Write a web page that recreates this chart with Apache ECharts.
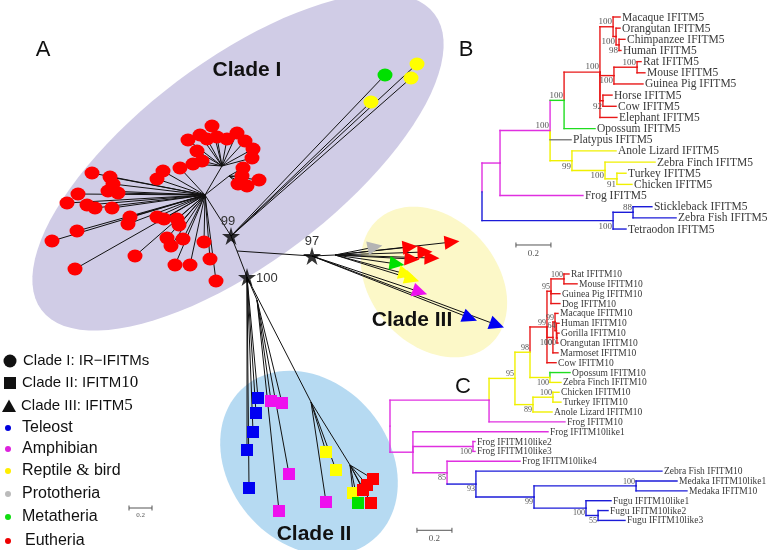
<!DOCTYPE html>
<html><head><meta charset="utf-8">
<script src="https://cdn.jsdelivr.net/npm/echarts/dist/echarts.min.js"></script>
<style>html,body{margin:0;padding:0;background:#fff}#c{width:768px;height:550px}</style>
</head><body><div id="c"></div>
<script>
// ---------------- Panel A : unrooted tree (layout coordinates) ----------------
const aNodeNames = ['hubI','hubIupper','hubIright','node99','node100','node97','root','hubIII','hubIIa','hubIIb','hubIIc'];
const aNodeX = [205,222,229,231,247,312,237,335,257,311,350];
const aNodeY = [195,166,176,236,277,256,251,255,300,402,465];
const aNodeLinks = [[1,0],[2,0],[0,3],[3,6],[6,4],[6,5],[5,7],[4,8],[4,9],[9,10]];
const aStarNodes = [3,4,5];
const aStarSupport = ['99','100','97'];
// leaves: [x, y, parentNode]
const cladeIEutheria = [
 [212,126,1],[188,140,1],[200,135,1],[207,139,1],[217,137,1],[227,139,1],[237,133,1],[245,141,1],[253,149,1],[252,158,1],[197,151,1],[202,161,1],[193,164,1],
 [180,168,0],[163,171,0],[157,179,0],
 [243,168,2],[242,176,2],[238,184,2],[247,186,2],[259,180,2],
 [92,173,0],[110,177,0],[113,184,0],[108,191,0],[118,193,0],[78,194,0],[67,203,0],[87,205,0],[95,208,0],[112,208,0],
 [130,217,0],[128,224,0],[157,217,0],[164,219,0],[177,219,0],[179,225,0],[77,231,0],[52,241,0],[167,238,0],[171,246,0],
 [183,239,0],[204,242,0],[135,256,0],[175,265,0],[190,265,0],[210,259,0],[75,269,0],[216,281,0]
];
const cladeIMetatheria = [[385,75,3]];
const cladeIReptile = [[417,64,3],[411,78,3],[371,102,3]];
const cladeIIIPrototheria = [[375,247,7]];
const cladeIIIEutheria = [[410,247,7],[452,242,7],[425,252,7],[432,258,7],[412,259,7]];
const cladeIIIMetatheria = [[397,264,7]];
const cladeIIIReptile = [[406,274,7],[412,279,7]];
const cladeIIIAmphibian = [[420,292,5]];
const cladeIIITeleost = [[470,318,5],[497,325,5]];
const cladeIITeleost = [[258,398,4],[256,413,4],[253,432,4],[247,450,4],[249,488,4]];
const cladeIIAmphibian = [[271,401,8],[282,403,8],[289,474,8],[279,511,8],[326,502,9]];
const cladeIIReptile = [[326,452,9],[336,470,9],[353,493,10]];
const cladeIIMetatheria = [[358,503,10]];
const cladeIIEutheria = [[371,503,10],[367,485,10],[373,479,10],[363,490,10]];

// ---------------- Panel B : IFITM5 tree (branch lengths) ----------------
const bLeaves = ['Macaque IFITM5','Orangutan IFITM5','Chimpanzee IFITM5','Human IFITM5','Rat IFITM5','Mouse IFITM5','Guinea Pig IFITM5','Horse IFITM5','Cow IFITM5','Elephant IFITM5','Opossum IFITM5','Platypus IFITM5','Anole Lizard IFITM5','Zebra Finch IFITM5','Turkey IFITM5','Chicken IFITM5','Frog IFITM5','Stickleback IFITM5','Zebra Fish IFITM5','Tetraodon IFITM5'];
const bLeafDepth = [0.789,0.789,0.817,0.794,0.909,0.931,0.92,0.743,0.766,0.771,0.646,0.509,0.766,0.989,0.823,0.857,0.577,0.971,1.109,0.823];
const bLeafGroup = ['eu','eu','eu','eu','eu','eu','eu','eu','eu','eu','me','pr','re','re','re','re','am','te','te','te'];
const bNodeDepth = [0,0.103,0.389,0.469,0.674,0.749,0.766,0.783,0.754,0.886,0.691,0.514,0.703,0.771,0.749,0.863];
const bNodeGroup = ['am','am','am','me','eu','eu','eu','eu','eu','eu','eu','re','re','re','te','te'];
const bNodeChildren = [['n1','n14'],['n2',16],['n3',11,'n11'],['n4',10],['n5','n8','n10',9],[0,'n6'],[1,'n7'],[2,3],['n9',6],[4,5],[7,8],[12,'n12'],[13,'n13'],[14,15],['n15',19],[17,18]];
const bVertOverride = {n3:'am', '11':'re'};
const bSupport = [['n2',100,'a'],['n3',100,'a'],['n4',100,'a'],['n5',100,'a'],['n6',100,'b'],['n7',98,'b'],['n8',100,'b'],['n9',100,'a'],['n10',92,'b'],['n11',99,'b'],['n12',100,'b'],['n13',91,'b'],['n15',88,'a'],['n14',100,'b']];

// ---------------- Panel C : IFITM10 tree (branch lengths) ----------------
const cLeaves = ['Rat IFITM10','Mouse IFITM10','Guinea Pig IFITM10','Dog IFITM10','Macaque IFITM10','Human IFITM10','Gorilla IFITM10','Orangutan IFITM10','Marmoset IFITM10','Cow IFITM10','Opossum IFITM10','Zebra Finch IFITM10','Chicken IFITM10','Turkey IFITM10','Anole Lizard IFITM10','Frog IFITM10','Frog IFITM10like1','Frog IFITM10like2','Frog IFITM10like3','Frog IFITM10like4','Zebra Fish IFITM10','Medaka IFITM10like1','Medaka IFITM10','Fugu IFITM10like1','Fugu IFITM10like2','Fugu IFITM10like3'];
const cLeafDepth = [1.023,1.069,0.971,0.971,0.96,0.966,0.966,0.96,0.96,0.949,1.029,0.977,0.966,0.977,0.926,1.0,0.903,0.486,0.486,0.743,1.554,1.64,1.697,1.263,1.246,1.343];
const cLeafGroup = ['eu','eu','eu','eu','eu','eu','eu','eu','eu','eu','me','re','re','re','re','am','am','am','am','am','te','te','te','te','te','te'];
const cNodeDepth = [0,0.566,0.714,0.8,0.897,0.92,0.994,0.931,0.943,0.914,0.817,0.931,0.131,0.474,0.326,0.491,0.823,1.406,0.951,1.12,0.954,1.189];
const cNodeGroup = ['am','am','re','re','eu','eu','eu','eu','eu','re','re','re','am','am','am','te','te','te','eu','te','eu','te'];
const cNodeChildren = [['n1','n12'],['n2',15],['n3','n10'],['n4','n9'],['n5','n7',9],['n6',2,3],[0,1],['n8',8],[4,'n18'],[10,11],['n11',14],[12,13],[16,'n13','n14'],[17,18],[19,'n15'],[20,'n16'],['n17','n19'],[21,22],[5,'n20'],[23,'n21'],[6,7],[24,25]];
const cVertOverride = {n15:'am'};
const cSupport = [['n6',100,'a'],['n5',95,'a'],['n4',99,'a'],['n7',100,'b'],['n8',99,'a'],['n18',64,'a'],['n20',100,'b'],['n3',98,'a'],['n2',95,'a'],['n9',100,'b'],['n11',100,'a'],['n10',89,'b'],['n13',100,'b'],['n14',85,'b'],['n15',93,'b'],['n16',99,'b'],['n17',100,'a'],['n19',100,'b'],['n21',55,'b']];

// ---------------- styling ----------------
const MARK = {te:'#0000f2', am:'#ee10ee', re:'#ffff00', pr:'#b4b4b4', me:'#00e000', eu:'#ff0000'};
const LINE = {te:'#1b1bd8', am:'#e030e0', re:'#f0f000', pr:'#7a7a7a', me:'#20dd20', eu:'#e81818'};
const SERIF = "'Liberation Serif', 'DejaVu Serif', serif";
const SANS = "'Liberation Sans', Arial, sans-serif";
const ellipses = [
  {c:[238,162], a:246, b:101, ang:-37, fill:'#d0cce6'},
  {c:[434,282], a:84, b:63, ang:48, fill:'#fcf8c8'},
  {c:[309,463], a:100, b:80, ang:50, fill:'#b6daf2'}
];
const bRowTop = 17, bRowStep = 11.16, cRowTop = 274, cRowStep = 9.88;

// ---------------- tree layout helper ----------------
function buildTree(leafDepth, leafGroup, nodeDepth, nodeGroup, nodeChildren, vertOverride){
  const isLeaf = k => typeof k === 'number';
  const idx = k => isLeaf(k) ? k : +k.slice(1);
  const yOf = k => { if (isLeaf(k)) return k; const ch = nodeChildren[idx(k)]; return (yOf(ch[0]) + yOf(ch[ch.length-1]))/2; };
  const dOf = k => isLeaf(k) ? leafDepth[k] : nodeDepth[idx(k)];
  const gOf = k => isLeaf(k) ? leafGroup[k] : nodeGroup[idx(k)];
  const segs = [];
  nodeChildren.forEach((ch,i)=>{ const px=nodeDepth[i], py=yOf('n'+i);
    ch.forEach(c=>{ segs.push([px,py,px,yOf(c), vertOverride[String(c)] || gOf(c)]); }); });
  nodeChildren.forEach((ch,i)=>{ const px=nodeDepth[i];
    ch.forEach(c=>{ const cy=yOf(c); segs.push([px,cy,dOf(c),cy,gOf(c)]); }); });
  const nodePos = k => [nodeDepth[idx(k)], yOf(k)];
  return {segs, nodePos};
}
const treeB = buildTree(bLeafDepth,bLeafGroup,bNodeDepth,bNodeGroup,bNodeChildren,bVertOverride);
const treeC = buildTree(cLeafDepth,cLeafGroup,cNodeDepth,cNodeGroup,cNodeChildren,cVertOverride);

function segSeries(segs, ai, colorFn, width, z, cap){
  return {type:'custom', xAxisIndex:ai, yAxisIndex:ai, z, silent:true, clip:false, animation:false,
    data: segs.map(s=>[s[0],s[1],s[2],s[3]]),
    renderItem:(params, api)=>{ const s=segs[params.dataIndex]; const p=api.coord([s[0],s[1]]), q=api.coord([s[2],s[3]]);
      return {type:'line', shape:{x1:p[0],y1:p[1],x2:q[0],y2:q[1]}, style:{stroke:colorFn(s), lineWidth:width, lineCap:cap||'square'}}; }};
}
function textSeries(items, ai, z, fmt){
  return {type:'custom', xAxisIndex:ai, yAxisIndex:ai, z, silent:true, clip:false, animation:false,
    data: items.map(t=>[t[0],t[1]]),
    renderItem:(params, api)=>{ const t=items[params.dataIndex]; const p=api.coord([t[0],t[1]]); const f=fmt(t);
      return {type:'text', x:p[0]+(f.dx||0), y:p[1]+(f.dy||0), style:{text:t[2], fontFamily:f.family, fontSize:f.size, fontWeight:f.weight||'normal', fill:f.color, align:f.align||'left', verticalAlign:f.va||'middle'}}; }};
}
function scaleBarSeries(ai, start, row, len, fontSize){
  return {type:'custom', xAxisIndex:ai, yAxisIndex:ai, z:3, silent:true, clip:false, animation:false,
    data:[[start,row,len]],
    renderItem:(params, api)=>{ const p=api.coord([start,row]), q=api.coord([start+len,row]); const col='#555';
      return {type:'group', children:[
        {type:'line', shape:{x1:p[0],y1:p[1],x2:q[0],y2:q[1]}, style:{stroke:col,lineWidth:1}},
        {type:'line', shape:{x1:p[0],y1:p[1]-2.5,x2:p[0],y2:p[1]+2.5}, style:{stroke:col,lineWidth:1}},
        {type:'line', shape:{x1:q[0],y1:q[1]-2.5,x2:q[0],y2:q[1]+2.5}, style:{stroke:col,lineWidth:1}},
        {type:'text', x:(p[0]+q[0])/2, y:p[1]+4, style:{text:'0.2', fontFamily:SERIF, fontSize:fontSize, fill:'#555', align:'center', verticalAlign:'top'}}
      ]}; }};
}

// ---------------- panel A series ----------------
const aSegs = [];
aNodeLinks.forEach(l=>aSegs.push([aNodeX[l[0]],aNodeY[l[0]],aNodeX[l[1]],aNodeY[l[1]]]));
const aLeafSets = [
  {arr:cladeIEutheria,g:'eu',sym:'circle'},{arr:cladeIMetatheria,g:'me',sym:'circle'},{arr:cladeIReptile,g:'re',sym:'circle'},
  {arr:cladeIIIPrototheria,g:'pr',sym:'triangle'},{arr:cladeIIIEutheria,g:'eu',sym:'triangle'},{arr:cladeIIIMetatheria,g:'me',sym:'triangle'},
  {arr:cladeIIIReptile,g:'re',sym:'triangle'},{arr:cladeIIIAmphibian,g:'am',sym:'triangle'},{arr:cladeIIITeleost,g:'te',sym:'triangle'},
  {arr:cladeIITeleost,g:'te',sym:'rect'},{arr:cladeIIAmphibian,g:'am',sym:'rect'},{arr:cladeIIReptile,g:'re',sym:'rect'},
  {arr:cladeIIMetatheria,g:'me',sym:'rect'},{arr:cladeIIEutheria,g:'eu',sym:'rect'}
];
aLeafSets.forEach(s=>s.arr.forEach(p=>aSegs.push([aNodeX[p[2]],aNodeY[p[2]],p[0],p[1]])));

const markerSeries = aLeafSets.map(s=>({
  type:'scatter', xAxisIndex:0, yAxisIndex:0, z:4, silent:true, animation:false,
  symbol:s.sym, symbolSize: s.sym==='circle'?[15,13]:(s.sym==='rect'?12:[14,15]),
  itemStyle:{color:MARK[s.g], opacity:1},
  data: s.arr.map(p=>{ const dx=p[0]-aNodeX[p[2]], dy=p[1]-aNodeY[p[2]];
    const ang=Math.atan2(-dy,dx)*180/Math.PI;
    return {value:[p[0],p[1]], symbolRotate: s.sym==='triangle'? ang-90 : 0}; })
}));

const starPath = 'path://M50,0 L61,35 L98,35 L68,57 L79,91 L50,70 L21,91 L32,57 L2,35 L39,35 Z';
const starSeries = {type:'scatter', xAxisIndex:0, yAxisIndex:0, z:5, silent:true, animation:false,
  symbol:starPath, symbolSize:18, itemStyle:{color:'#000'},
  data: aStarNodes.map(i=>[aNodeX[i],aNodeY[i]])};
const starLabelPos = [{dx:-3,dy:-15,align:'center'},{dx:9,dy:1,align:'left'},{dx:0,dy:-15,align:'center'}];
const starLabels = aStarNodes.map((n,k)=>[aNodeX[n],aNodeY[n],aStarSupport[k],k]);

const ellipseSeries = {type:'custom', xAxisIndex:0, yAxisIndex:0, z:0, silent:true, clip:false, animation:false,
  data: ellipses.map(e=>e.c),
  renderItem:(params, api)=>{ const e=ellipses[params.dataIndex]; const r=e.ang*Math.PI/180; const pts=[];
    for(let i=0;i<96;i++){ const t=i/96*2*Math.PI; const u=e.a*Math.cos(t), v=e.b*Math.sin(t);
      pts.push(api.coord([e.c[0]+u*Math.cos(r)-v*Math.sin(r), e.c[1]+u*Math.sin(r)+v*Math.cos(r)])); }
    return {type:'polygon', shape:{points:pts}, style:{fill:e.fill}}; }};

// ---------------- panel B/C text ----------------
const bLeafText = bLeaves.map((n,i)=>[bLeafDepth[i], i, n]);
const cLeafText = cLeaves.map((n,i)=>[cLeafDepth[i], i, n]);
const bSupText = bSupport.map(s=>{ const p=treeB.nodePos(s[0]); return [p[0],p[1],String(s[1]),s[2]]; });
const cSupText = cSupport.map(s=>{ const p=treeC.nodePos(s[0]); return [p[0],p[1],String(s[1]),s[2]]; });

const option = {
  backgroundColor:'#ffffff', animation:false,
  grid:[
    {left:0, top:0, width:768, height:550},
    {left:482, top:bRowTop-bRowStep, width:280, height:22*bRowStep},
    {left:390, top:cRowTop-cRowStep, width:350, height:29*cRowStep}
  ],
  xAxis:[
    {gridIndex:0, type:'value', min:0, max:768, show:false},
    {gridIndex:1, type:'value', min:0, max:1.6, show:false},
    {gridIndex:2, type:'value', min:0, max:2.0, show:false}
  ],
  yAxis:[
    {gridIndex:0, type:'value', min:0, max:550, inverse:true, show:false},
    {gridIndex:1, type:'value', min:-1, max:21, inverse:true, show:false},
    {gridIndex:2, type:'value', min:-1, max:28, inverse:true, show:false}
  ],
  series:[
    ellipseSeries,
    segSeries(aSegs, 0, ()=>'#111', 1, 2, 'butt'),
    ...markerSeries,
    starSeries,
    textSeries(starLabels, 0, 6, t=>{const s=starLabelPos[t[3]]; return {family:SANS,size:13,color:'#333',dx:s.dx,dy:s.dy,align:s.align};}),
    segSeries(treeB.segs, 1, s=>LINE[s[4]], 1.4, 2),
    segSeries(treeC.segs, 2, s=>LINE[s[4]], 1.4, 2),
    textSeries(bLeafText, 1, 6, ()=>({family:SERIF,size:11.5,color:'#3a3a3a',dx:2,dy:0.5})),
    textSeries(cLeafText, 2, 6, ()=>({family:SERIF,size:9.5,color:'#3a3a3a',dx:2,dy:0.5})),
    textSeries(bSupText, 1, 6, t=>({family:SERIF,size:9,color:'#555',dx:-1,dy:t[3]==='a'?-0.5:1,align:'right',va:t[3]==='a'?'bottom':'top'})),
    textSeries(cSupText, 2, 6, t=>({family:SERIF,size:8,color:'#555',dx:-1,dy:t[3]==='a'?-0.5:1,align:'right',va:t[3]==='a'?'bottom':'top'})),
    scaleBarSeries(1, 0.194, 20.43, 0.2, 9),
    scaleBarSeries(2, 0.154, 26.0, 0.2, 9),
    scaleBarSeries(0, 129, 508, 23, 7)
  ],
  graphic:[
    {type:'text', x:43, y:50, style:{text:'A', font:'22px '+SANS, fill:'#111', align:'center', verticalAlign:'middle'}},
    {type:'text', x:466, y:50, style:{text:'B', font:'22px '+SANS, fill:'#111', align:'center', verticalAlign:'middle'}},
    {type:'text', x:463, y:387, style:{text:'C', font:'22px '+SANS, fill:'#111', align:'center', verticalAlign:'middle'}},
    {type:'text', x:247, y:70, z:10, style:{text:'Clade I', font:'bold 21px '+SANS, fill:'#111', align:'center', verticalAlign:'middle'}},
    {type:'text', x:412, y:320, z:10, style:{text:'Clade III', font:'bold 21px '+SANS, fill:'#111', align:'center', verticalAlign:'middle'}},
    {type:'text', x:314, y:534, z:10, style:{text:'Clade II', font:'bold 21px '+SANS, fill:'#111', align:'center', verticalAlign:'middle'}},
    // legend
    {type:'circle', shape:{cx:10, cy:361, r:6.5}, style:{fill:'#111'}},
    {type:'rect', shape:{x:4, y:377, width:12, height:12}, style:{fill:'#111'}},
    {type:'polygon', shape:{points:[[9,399.5],[16,412],[2,412]]}, style:{fill:'#111'}},
    {type:'circle', shape:{cx:8, cy:428, r:3}, style:{fill:'#0000dd'}},
    {type:'circle', shape:{cx:8, cy:449, r:3}, style:{fill:'#dd22dd'}},
    {type:'circle', shape:{cx:8, cy:471, r:3}, style:{fill:'#ffee00'}},
    {type:'circle', shape:{cx:8, cy:494, r:3}, style:{fill:'#bbbbbb'}},
    {type:'circle', shape:{cx:8, cy:517, r:3}, style:{fill:'#11dd11'}},
    {type:'circle', shape:{cx:8, cy:541, r:3}, style:{fill:'#ee0000'}},
    {type:'text', x:23, y:361, style:{text:'Clade I: IR\u2212IFITMs', font:'15px '+SANS, fill:'#111', verticalAlign:'middle'}},
    {type:'text', x:22, y:383, style:{text:'{s|Clade II: IFITM}{n|10}', verticalAlign:'middle', rich:{s:{fontFamily:SANS,fontSize:15,fill:'#111'},n:{fontFamily:SERIF,fontSize:17,fill:'#111'}}}},
    {type:'text', x:21, y:406, style:{text:'{s|Clade III: IFITM}{n|5}', verticalAlign:'middle', rich:{s:{fontFamily:SANS,fontSize:15,fill:'#111'},n:{fontFamily:SERIF,fontSize:17,fill:'#111'}}}},
    {type:'text', x:22, y:428, style:{text:'Teleost', font:'16px '+SANS, fill:'#111', verticalAlign:'middle'}},
    {type:'text', x:22, y:449, style:{text:'Amphibian', font:'16px '+SANS, fill:'#111', verticalAlign:'middle'}},
    {type:'text', x:22, y:471, style:{text:'{s|Reptile }{n|&}{s| bird}', verticalAlign:'middle', rich:{s:{fontFamily:SANS,fontSize:16,fill:'#111'},n:{fontFamily:SERIF,fontSize:17,fill:'#111'}}}},
    {type:'text', x:22, y:494, style:{text:'Prototheria', font:'16px '+SANS, fill:'#111', verticalAlign:'middle'}},
    {type:'text', x:22, y:517, style:{text:'Metatheria', font:'16px '+SANS, fill:'#111', verticalAlign:'middle'}},
    {type:'text', x:25, y:541, style:{text:'Eutheria', font:'16px '+SANS, fill:'#111', verticalAlign:'middle'}}
  ]
};
const chart = echarts.init(document.getElementById('c'), null, {renderer:'canvas'});
chart.setOption(option);
</script></body></html>
